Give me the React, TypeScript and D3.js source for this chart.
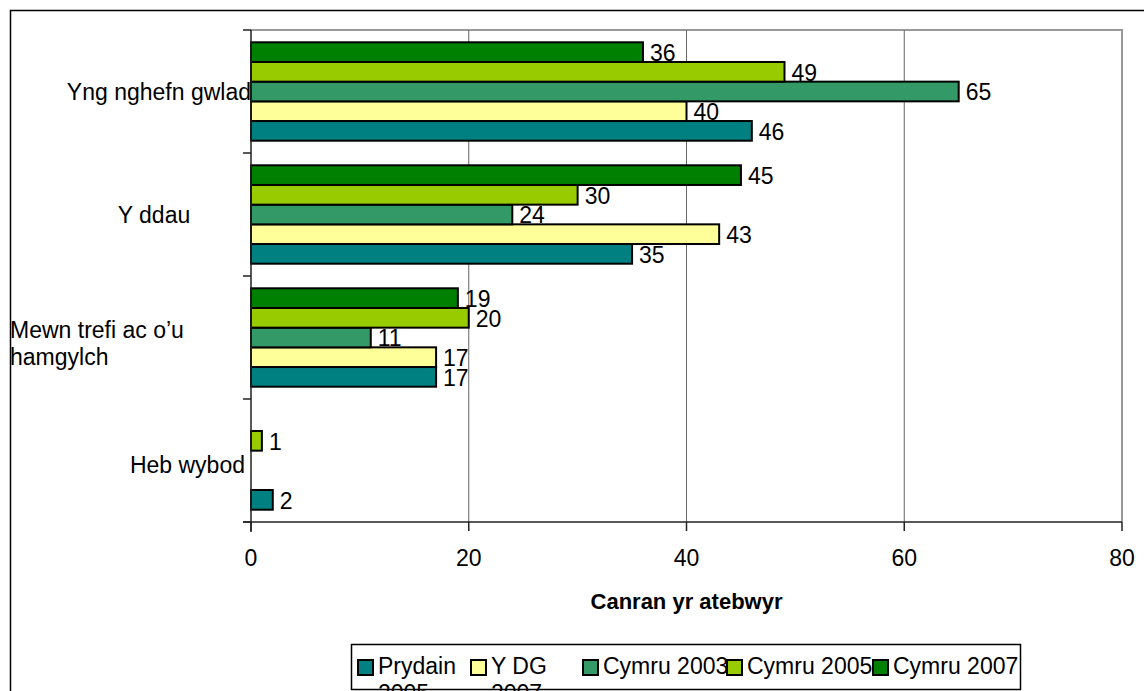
import { useEffect, useRef } from 'react'
import * as d3 from 'd3'

const categories = ['Yng nghefn gwlad', 'Y ddau', 'Mewn trefi ac o\u2019u hamgylch', 'Heb wybod']
const seriesNames = ['Prydain 2005', 'Y DG 2007', 'Cymru 2003', 'Cymru 2005', 'Cymru 2007']
const seriesColors = ['#008080', '#FFFF99', '#339966', '#99CC00', '#008000']

// values per series, in category order (null = no bar)
const prydain2005 = [46, 35, 17, 2]
const ydg2007 = [40, 43, 17, null]
const cymru2003 = [65, 24, 11, null]
const cymru2005 = [49, 30, 20, 1]
const cymru2007 = [36, 45, 19, null]
const seriesValues = [prydain2005, ydg2007, cymru2003, cymru2005, cymru2007]

const xTicks = [0, 20, 40, 60, 80]
const xTitle = 'Canran yr atebwyr'

// label placement for the category axis (layout only)
const catLabelLayout = [
  { lines: ['Yng nghefn gwlad'], anchor: 'end', x: 251, dy: 0 },
  { lines: ['Y ddau'], anchor: 'middle', x: 154, dy: 0 },
  { lines: ['Mewn trefi ac o\u2019u', 'hamgylch'], anchor: 'start', x: 10, dy: 6 },
  { lines: ['Heb wybod'], anchor: 'end', x: 245, dy: 4 },
]
const legendLines = [['Prydain', '2005'], ['Y DG', '2007'], ['Cymru 2003'], ['Cymru 2005'], ['Cymru 2007']]
const legendSlots = [0, 113, 225, 369, 515]

const W = 1144
const H = 691
const FONT = '"Liberation Sans", Arial, sans-serif'
const FS = '23px'

export default function App() {
  const svgRef = useRef<SVGSVGElement>(null)

  useEffect(() => {
    if (!svgRef.current) return
    const svg = d3.select(svgRef.current)
    svg.selectAll('*').remove()

    const left = 251
    const right = 1122
    const top = 30
    const bottom = 522

    svg.append('rect')
      .attr('width', W).attr('height', H).attr('fill', 'white')

    // outer chart border
    svg.append('rect')
      .attr('x', 10.5).attr('y', 10.5)
      .attr('width', 1140).attr('height', 700)
      .attr('fill', 'none').attr('stroke', '#000').attr('stroke-width', 1.5)

    const x = d3.scaleLinear().domain([0, 80]).range([left, right])
    const y = d3.scaleBand<string>()
      .domain(categories)
      .range([top, bottom])
      .paddingInner(0.2)
      .paddingOuter(0.1)
    const ySeries = d3.scaleBand<string>()
      .domain([...seriesNames].reverse())
      .range([0, y.bandwidth()])

    // plot frame (top/right gray)
    svg.append('path')
      .attr('d', `M${left},${top}H${right}V${bottom}`)
      .attr('fill', 'none').attr('stroke', '#999').attr('stroke-width', 2)

    // gridlines
    svg.append('g')
      .selectAll('line')
      .data(xTicks.slice(1, -1))
      .enter().append('line')
      .attr('x1', d => x(d)).attr('x2', d => x(d))
      .attr('y1', top).attr('y2', bottom)
      .attr('stroke', '#666').attr('stroke-width', 1)

    // bars
    const bars = svg.append('g')
    seriesNames.forEach((name, si) => {
      seriesValues[si].forEach((v, ci) => {
        if (v == null) return
        const y0 = (y(categories[ci]) ?? 0) + (ySeries(name) ?? 0)
        bars.append('rect')
          .attr('x', x(0))
          .attr('y', y0)
          .attr('width', x(v) - x(0))
          .attr('height', ySeries.bandwidth())
          .attr('fill', seriesColors[si])
          .attr('stroke', '#000')
          .attr('stroke-width', 2)
        bars.append('text')
          .attr('x', x(v) + 7)
          .attr('y', y0 + ySeries.bandwidth() / 2)
          .attr('dy', '0.38em')
          .style('font-family', FONT)
          .style('font-size', FS)
          .attr('fill', '#000')
          .text(v)
      })
    })

    // category axis
    const catBounds = [top, ...categories.map((c, i) => top + (i + 1) * y.step())]
    svg.append('line')
      .attr('x1', left).attr('x2', left).attr('y1', top).attr('y2', bottom + 10)
      .attr('stroke', '#222').attr('stroke-width', 1.5)
    svg.append('g').selectAll('line')
      .data(catBounds)
      .enter().append('line')
      .attr('x1', left - 8).attr('x2', left)
      .attr('y1', d => d).attr('y2', d => d)
      .attr('stroke', '#222').attr('stroke-width', 1.5)

    categories.forEach((c, i) => {
      const lay = catLabelLayout[i]
      const cy = (y(c) ?? 0) + y.bandwidth() / 2 + lay.dy
      const lh = 27
      const t = svg.append('text')
        .attr('text-anchor', lay.anchor)
        .style('font-family', FONT)
        .style('font-size', FS)
        .attr('fill', '#000')
      lay.lines.forEach((ln, li) => {
        t.append('tspan')
          .attr('x', lay.x)
          .attr('y', cy + (li - (lay.lines.length - 1) / 2) * lh)
          .attr('dy', '0.36em')
          .text(ln)
      })
    })

    // value axis
    svg.append('line')
      .attr('x1', left - 8).attr('x2', right).attr('y1', bottom).attr('y2', bottom)
      .attr('stroke', '#222').attr('stroke-width', 1.5)
    svg.append('g').selectAll('line')
      .data(xTicks)
      .enter().append('line')
      .attr('x1', d => x(d)).attr('x2', d => x(d))
      .attr('y1', bottom).attr('y2', bottom + 9)
      .attr('stroke', '#222').attr('stroke-width', 1.5)
    svg.append('g').selectAll('text')
      .data(xTicks)
      .enter().append('text')
      .attr('x', d => x(d))
      .attr('y', 566)
      .attr('text-anchor', 'middle')
      .style('font-family', FONT)
      .style('font-size', FS)
      .attr('fill', '#000')
      .text(d => d)

    svg.append('text')
      .attr('x', (left + right) / 2)
      .attr('y', 609)
      .attr('text-anchor', 'middle')
      .style('font-family', FONT)
      .style('font-size', '22px')
      .style('font-weight', 'bold')
      .attr('fill', '#000')
      .text(xTitle)

    // legend
    const lg = svg.append('g')
    lg.append('rect')
      .attr('x', 351.5).attr('y', 644.5)
      .attr('width', 669).attr('height', 45)
      .attr('fill', 'white').attr('stroke', '#000').attr('stroke-width', 1.5)
    seriesNames.forEach((name, i) => {
      const sx = 358 + legendSlots[i]
      lg.append('text')
        .attr('x', sx + 20)
        .attr('y', 674)
        .style('font-family', FONT)
        .style('font-size', FS)
        .attr('fill', '#000')
        .selectAll('tspan')
        .data(legendLines[i])
        .enter().append('tspan')
        .attr('x', sx + 20)
        .attr('dy', (d, j) => (j === 0 ? 0 : 27))
        .text(d => d)
    })
    seriesNames.forEach((name, i) => {
      const sx = 358 + legendSlots[i]
      lg.append('rect')
        .attr('x', sx).attr('y', 660)
        .attr('width', 15).attr('height', 15)
        .attr('fill', seriesColors[i])
        .attr('stroke', '#000').attr('stroke-width', 2)
    })
  }, [])

  return (
    <svg
      ref={svgRef}
      width={W}
      height={H}
      style={{ position: 'absolute', left: 0, top: 0, display: 'block' }}
    />
  )
}
